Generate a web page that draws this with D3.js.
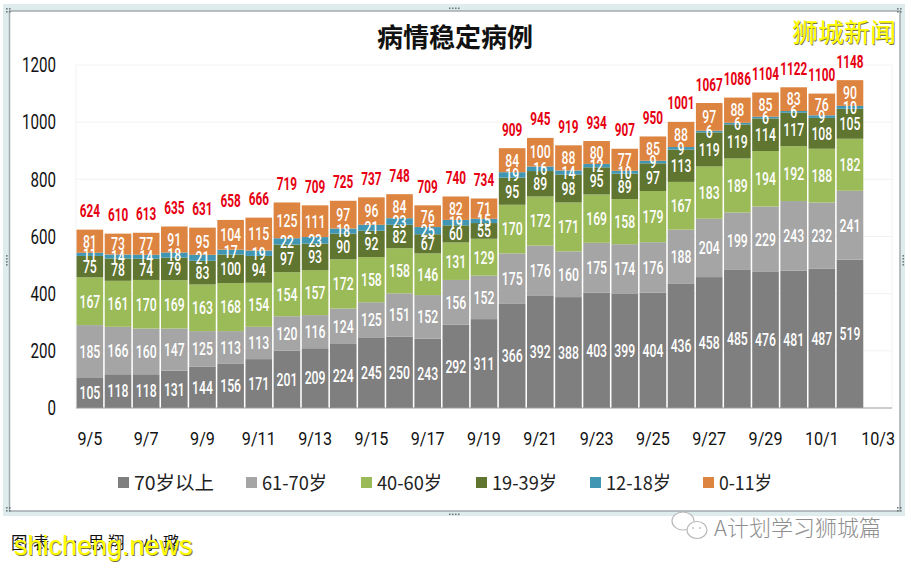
<!DOCTYPE html>
<html><head><meta charset="utf-8">
<script src="https://cdn.jsdelivr.net/npm/d3@7/dist/d3.min.js"></script>
<style>html,body{margin:0;padding:0;background:#fff;overflow:hidden}svg{display:block}</style>
</head><body><svg id="c" width="911" height="568"></svg>
<script>
const dates=["9/5","9/6","9/7","9/8","9/9","9/10","9/11","9/12","9/13","9/14","9/15","9/16","9/17","9/18","9/19","9/20","9/21","9/22","9/23","9/24","9/25","9/26","9/27","9/28","9/29","9/30","10/1","10/2","10/3"];
const seriesNames=["70岁以上","61-70岁","40-60岁","19-39岁","12-18岁","0-11岁"];
const seriesColors=["#7f7f7f","#a5a5a5","#9bbb59","#5f7530","#4197b3","#dd8440"];
const age70=[105,118,118,131,144,156,171,201,209,224,245,250,243,292,311,366,392,388,403,399,404,436,458,485,476,481,487,519,null];
const age61=[185,166,160,147,125,113,113,120,116,124,125,151,152,156,152,175,176,160,175,174,176,188,204,199,229,243,232,241,null];
const age40=[167,161,170,169,163,168,154,154,157,172,158,158,146,131,129,170,172,171,169,158,179,167,183,189,194,192,188,182,null];
const age19=[75,78,74,79,83,100,94,97,93,90,92,82,67,60,55,95,89,98,95,89,97,113,119,119,114,117,108,105,null];
const age12=[11,14,14,18,21,17,19,22,23,18,21,23,25,19,15,19,16,14,12,10,9,9,6,6,6,6,9,10,null];
const age0=[81,73,77,91,95,104,115,125,111,97,96,84,76,82,71,84,100,88,80,77,85,88,97,88,85,83,76,90,null];
const totals=[624,610,613,635,631,658,666,719,709,725,737,748,709,740,734,909,945,919,934,907,950,1001,1067,1086,1104,1122,1100,1148,null];
const yTicks=[0,200,400,600,800,1000,1200];
const xLabels=["9/5","9/7","9/9","9/11","9/13","9/15","9/17","9/19","9/21","9/23","9/25","9/27","9/29","10/1","10/3"];
const allSeries=[age70,age61,age40,age19,age12,age0];
const LATIN='Roboto,"Liberation Sans",sans-serif';
const CJK='"Noto Sans CJK SC",sans-serif';

const svg=d3.select("#c");
// frame
svg.append("rect").attr("x",3).attr("y",4).attr("width",902).attr("height",512).attr("fill","#dfecee");
svg.append("rect").attr("x",9.5).attr("y",11).attr("width",890.5).attr("height",500).attr("fill","#fff").attr("stroke","#a3abae").attr("stroke-width",1.5);
const corners=[[9,11],[900,11],[9,510],[900,510]];
corners.forEach(h=>{for(let i=0;i<2;i++)for(let j=0;j<2;j++)
  svg.append("rect").attr("x",h[0]-3+i*3).attr("y",h[1]-3+j*3).attr("width",1.6).attr("height",1.6).attr("fill","#6f7b7e");});
[[455,7.5],[455,513.5]].forEach(h=>{for(let i=0;i<4;i++)
  svg.append("rect").attr("x",h[0]-6+i*3).attr("y",h[1]).attr("width",1.6).attr("height",1.6).attr("fill","#6f7b7e");});
[[6,261],[902.5,261]].forEach(h=>{for(let i=0;i<4;i++)
  svg.append("rect").attr("x",h[0]).attr("y",h[1]-6+i*3).attr("width",1.6).attr("height",1.6).attr("fill","#6f7b7e");});

const x=d3.scaleBand().domain(dates).range([76,892]).paddingInner(0.055).paddingOuter(0.02);
const y=d3.scaleLinear().domain([0,1200]).range([408,65]);

const grid=svg.append("g");
grid.selectAll("line").data(yTicks.filter(d=>d>0)).join("line")
 .attr("x1",76).attr("x2",892).attr("y1",d=>y(d)).attr("y2",d=>y(d)).attr("stroke","#f2f2f2");
grid.append("line").attr("x1",76).attr("x2",76).attr("y1",65).attr("y2",408).attr("stroke","#f2f2f2");
grid.append("line").attr("x1",892).attr("x2",892).attr("y1",65).attr("y2",408).attr("stroke","#f2f2f2");

const table=dates.map((d,i)=>{const o={date:d};seriesNames.forEach((s,k)=>o[s]=allSeries[k][i]||0);return o;});
const stacked=d3.stack().keys(seriesNames)(table);
const gs=svg.append("g").selectAll("g").data(stacked).join("g").attr("fill",(d,i)=>seriesColors[i]);
gs.selectAll("rect").data(d=>d).join("rect")
 .attr("x",d=>x(d.data.date)).attr("width",x.bandwidth())
 .attr("y",d=>y(d[1])).attr("height",d=>Math.max(0,y(d[0])-y(d[1])));
const lab=svg.append("g").attr("font-family",LATIN).attr("font-weight",500).attr("font-size",17.5).attr("fill","#fff").attr("text-anchor","middle");
stacked.forEach(s=>{
 lab.append("g").selectAll("text").data(s.filter(d=>d[1]>d[0])).join("text")
  .attr("transform",d=>`translate(${x(d.data.date)+x.bandwidth()/2},${y((d[0]+d[1])/2)}) scale(0.7,1)`).attr("dy","0.36em")
  .text(d=>d[1]-d[0]);
});
// totals
svg.append("g").attr("font-family",LATIN).attr("font-weight","bold").attr("font-size",19).attr("fill","#e60012").attr("text-anchor","middle")
 .selectAll("text").data(dates.map((d,i)=>({d,t:totals[i],top:d3.sum(allSeries,a=>a[i]||0)})).filter(v=>v.t))
 .join("text").attr("transform",v=>`translate(${x(v.d)+x.bandwidth()/2},${y(v.top)-12.5}) scale(0.62,1)`).text(v=>v.t);
// axis line
svg.append("line").attr("x1",76).attr("x2",892).attr("y1",408).attr("y2",408).attr("stroke","#9a9a9a");
// y axis
const yAxis=svg.append("g").attr("transform","translate(56,0)").call(d3.axisLeft(y).tickValues(yTicks).tickSize(0).tickPadding(0).tickFormat(d3.format("d")));
yAxis.select(".domain").remove();
yAxis.selectAll("text").attr("font-family",LATIN).attr("font-weight",400).attr("font-size",21).attr("fill","#111").attr("transform","scale(0.72,1)");
// x axis
const xAxis=svg.append("g").attr("transform","translate(0,431)").call(d3.axisBottom(x).tickValues(xLabels).tickSize(0).tickPadding(0));
xAxis.select(".domain").remove();
xAxis.selectAll("text").attr("font-family",LATIN).attr("font-weight",400).attr("font-size",19).attr("fill","#111").attr("transform","scale(0.85,1)");
// title
svg.append("text").attr("x",455).attr("y",47).attr("text-anchor","middle").attr("font-family",CJK).attr("font-weight","bold").attr("font-size",26).attr("fill","#111").text("病情稳定病例");
// legend
const legendX=[118,246,361,476,590,703];
const legendLen=[80,65,65,65,65,53];
const leg=svg.append("g").selectAll("g").data(seriesNames).join("g").attr("transform",(d,i)=>`translate(${legendX[i]},0)`);
leg.append("rect").attr("y",477).attr("width",11).attr("height",11).attr("fill",(d,i)=>seriesColors[i]);
leg.append("text").attr("x",16).attr("y",490).attr("font-family",CJK).attr("font-size",19).attr("fill","#222")
 .attr("textLength",(d,i)=>legendLen[i]).attr("lengthAdjust","spacingAndGlyphs").text(d=>d);
// watermarks
const w1=svg.append("g").attr("font-family",CJK).attr("font-size",26);
w1.append("text").attr("x",792.8).attr("y",42.8).attr("fill","#7a7440").text("狮城新闻");
w1.append("text").attr("x",792).attr("y",42).attr("fill","#ffff00").text("狮城新闻");
svg.append("text").attr("x","11 33 66 88 108 133 143 163").attr("y",549).attr("font-family",CJK).attr("font-size",16.5).attr("fill","#111").text("图表•思翔•小璐");
const w2=svg.append("g").attr("font-family",'"Liberation Sans",sans-serif').attr("font-size",27);
w2.append("text").attr("x",14.8).attr("y",555.8).attr("fill","#7a7440").text("shicheng.news");
w2.append("text").attr("x",14).attr("y",555).attr("fill","#ffff00").text("shicheng.news");
// wechat-like icon
const ic=svg.append("g").attr("fill","#fff").attr("stroke","#b8b8b8").attr("stroke-width",1.2);
ic.append("ellipse").attr("cx",683).attr("cy",521).attr("rx",11).attr("ry",9);
ic.append("ellipse").attr("cx",697).attr("cy",530).attr("rx",10).attr("ry",8.5);
ic.append("circle").attr("cx",693).attr("cy",528).attr("r",0.8).attr("fill","#999").attr("stroke","none");
ic.append("circle").attr("cx",700).attr("cy",528).attr("r",0.8).attr("fill","#999").attr("stroke","none");
svg.append("text").attr("x",714).attr("y",536).attr("font-family",CJK).attr("font-weight",300).attr("font-size",22).attr("fill","#8f8f8f").text("A计划学习狮城篇");
</script></body></html>
